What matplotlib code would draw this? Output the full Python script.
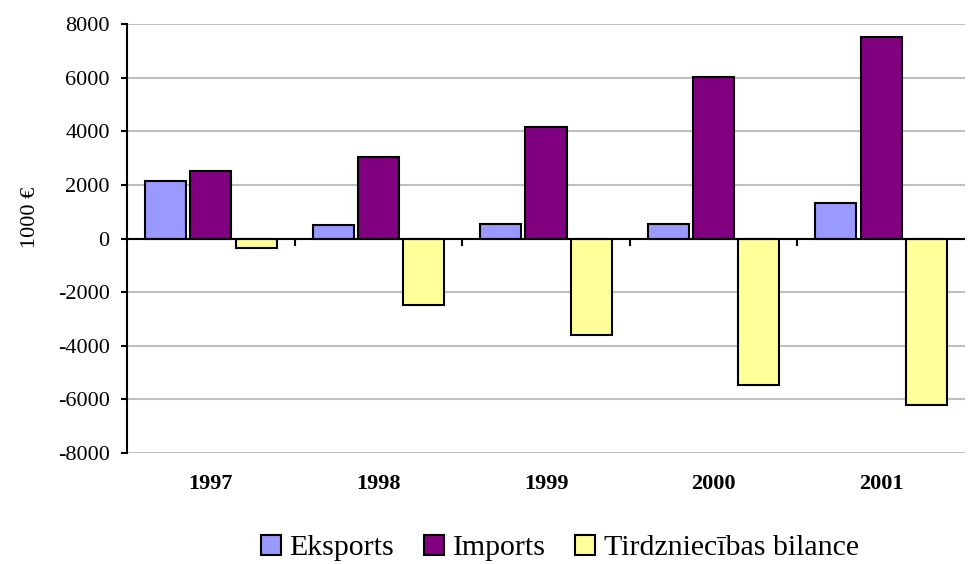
import numpy as np
import matplotlib
matplotlib.use('Agg')
import matplotlib.pyplot as plt

# data (1000 EUR)
years = ['1997', '1998', '1999', '2000', '2001']
series = ['Eksports', 'Imports', 'Tirdzniecības bilance']
eksports = [2150, 520, 530, 530, 1340]
imports = [2520, 3050, 4160, 6020, 7510]
bilance = [-370, -2480, -3600, -5460, -6200]
yticks = [-8000, -6000, -4000, -2000, 0, 2000, 4000, 6000, 8000]

colors = ['#9999FF', '#800080', '#FFFF99']

plt.rcParams['font.family'] = ['Liberation Serif', 'DejaVu Serif']

fig = plt.figure(figsize=(9.69, 5.64), dpi=100)
ax = fig.add_axes([127 / 969, 1 - 453 / 564, 838 / 969, 429 / 564])

x = np.arange(len(years))
step = 0.27
width = 0.245
for i, (vals, name) in enumerate(zip([eksports, imports, bilance], series)):
    ax.bar(x + (i - 1) * step, vals, width, color=colors[i],
           edgecolor='black', linewidth=1.5, label=name, zorder=3)

ax.set_xlim(-0.5, len(years) - 0.5)
ax.set_ylim(-8000, 8000)
ax.set_yticks(yticks)
ax.set_yticklabels([str(t) for t in yticks], fontsize=16)
ax.grid(axis='y', color='#C0C0C0', linewidth=1.5, zorder=0)
ax.axhline(0, color='black', linewidth=1.5, zorder=4)

# category separators on zero line
for b in np.arange(0.5, len(years) - 0.5):
    ax.plot([b, b], [0, -250], color='black', linewidth=1.5, zorder=4)

ax.set_xticks(x)
ax.set_xticklabels(years, fontsize=16, fontweight='bold')
ax.tick_params(axis='x', length=0, pad=15)
ax.tick_params(axis='y', direction='out', length=4.5, width=1.5, pad=8)

for s in ['top', 'right', 'bottom']:
    ax.spines[s].set_visible(False)
ax.spines['left'].set_linewidth(1.5)

ax.set_ylabel('1000 €', fontsize=16)
ax.yaxis.set_label_coords(-0.104, 0.55)

fig.legend(loc='center', bbox_to_anchor=(560 / 969, 1 - 548 / 564), ncol=3,
           frameon=False, fontsize=21.5, handlelength=0.65, handleheight=0.65,
           handletextpad=0.3, columnspacing=1.0, borderaxespad=0)

fig.savefig('out.png', dpi=100)
